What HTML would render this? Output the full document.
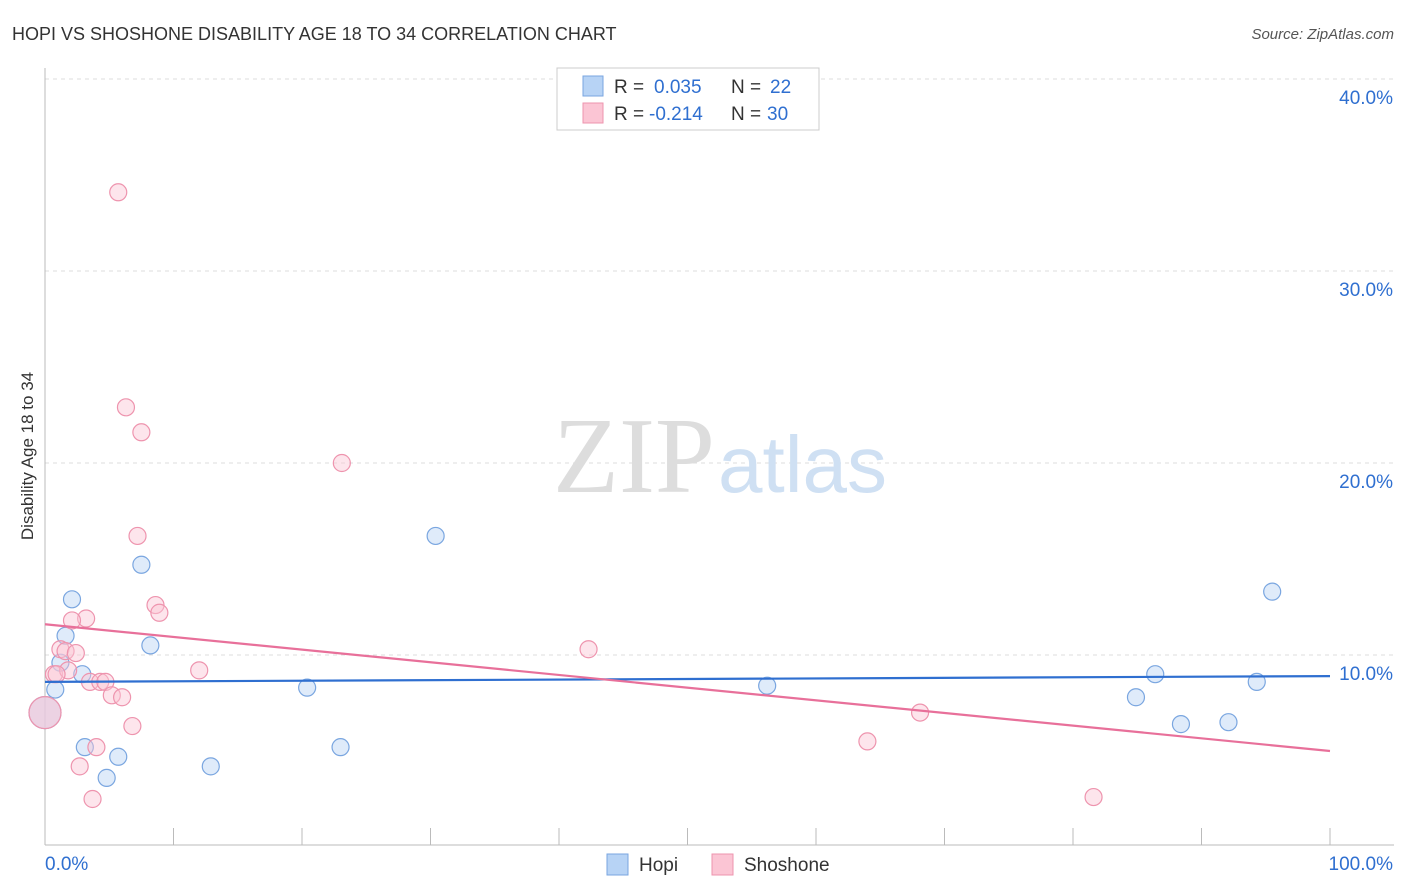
<!DOCTYPE html>
<html><head><meta charset="utf-8"><style>
body{margin:0;background:#fff;font-family:"Liberation Sans",sans-serif;}
#wrap{position:relative;width:1406px;height:892px;overflow:hidden}
</style></head><body><div id="wrap">
<svg id="chart" width="1406" height="892" xmlns="http://www.w3.org/2000/svg">
<text x="12" y="40" font-size="18" fill="#333">HOPI VS SHOSHONE DISABILITY AGE 18 TO 34 CORRELATION CHART</text>
<text x="1394" y="39" font-size="15" fill="#555" font-style="italic" text-anchor="end">Source: ZipAtlas.com</text>
<text x="33" y="456" font-size="17" fill="#333" text-anchor="middle" transform="rotate(-90 33 456)">Disability Age 18 to 34</text>
<g id="grid"></g>
<text x="715" y="492" font-size="108" fill="#ddd" font-family="Liberation Serif,serif" text-anchor="end">ZIP</text>
<text x="718" y="492" font-size="80" fill="#cfe0f3">atlas</text>
<g id="pts"></g><g id="lines"></g>
<g>
<rect x="557" y="68" width="262" height="62" fill="#fff" stroke="#ccc"/>
<rect x="583" y="76" width="20" height="20" fill="#b7d3f5" stroke="#7aa6e0"/>
<rect x="583" y="103" width="20" height="20" fill="#fbc5d4" stroke="#ee94ae"/>
<text x="614" y="93" font-size="19" fill="#333">R = <tspan x="654" fill="#2f6fd0">0.035</tspan><tspan x="731">N = </tspan><tspan x="770" fill="#2f6fd0">22</tspan></text>
<text x="614" y="120" font-size="19" fill="#333">R = <tspan x="649" fill="#2f6fd0">-0.214</tspan><tspan x="731">N = </tspan><tspan x="767" fill="#2f6fd0">30</tspan></text>
</g>
<g>
<rect x="607" y="854" width="21" height="21" fill="#b7d3f5" stroke="#7aa6e0"/>
<text x="639" y="871" font-size="19" fill="#333">Hopi</text>
<rect x="712" y="854" width="21" height="21" fill="#fbc5d4" stroke="#ee94ae"/>
<text x="744" y="871" font-size="19" fill="#333">Shoshone</text>
</g>
</svg></div>
<script>
const hopiX=[0.8,2.1,1.6,1.2,2.9,3.1,4.8,5.7,7.5,8.2,12.9,20.4,23.0,30.4,56.2,84.9,86.4,88.4,92.1,94.3,95.5,0];
const hopiY=[8.2,12.9,11.0,9.6,9.0,5.2,3.6,4.7,14.7,10.5,4.2,8.3,5.2,16.2,8.4,7.8,9.0,6.4,6.5,8.6,13.3,7.0];
const shoX=[5.7,6.3,7.5,23.1,7.2,8.6,8.9,3.2,2.1,1.2,1.6,2.4,0.7,1.8,3.5,4.3,4.7,5.2,6.0,6.8,12.0,4.0,2.7,3.7,42.3,68.1,64.0,81.6,0,0.9];
const shoY=[34.1,22.9,21.6,20.0,16.2,12.6,12.2,11.9,11.8,10.3,10.2,10.1,9.0,9.2,8.6,8.6,8.6,7.9,7.8,6.3,9.2,5.2,4.2,2.5,10.3,7.0,5.5,2.6,7.0,9.0];
const hopiLine=[8.6,8.9];
const shoLine=[11.6,5.0];
const yTicks=[10,20,30,40];
const X0=45,X1=1330,Y0=847,PY=19.2;
const sx=v=>X0+(X1-X0)*v/100, sy=v=>Y0-v*PY;
const NS="http://www.w3.org/2000/svg";
function mk(t,a,p){const e=document.createElementNS(NS,t);for(const k in a)e.setAttribute(k,a[k]);p.appendChild(e);return e;}
const g=document.getElementById('grid');
yTicks.forEach(v=>{
 const l=mk('line',{x1:45,x2:1394,y1:sy(v),y2:sy(v),stroke:'#ddd','stroke-dasharray':'4 4'},g);
 
 
 const t=mk('text',{x:1393,y:sy(v)+25,'font-size':19,fill:'#2f6fd0','text-anchor':'end'},g);
 t.textContent=v.toFixed(1)+'%';
 
 
});
const ax=mk('line',{x1:45,x2:1394,y1:845,y2:845,stroke:'#bbb'},g);


const ay=mk('line',{x1:45,x2:45,y1:68,y2:845,stroke:'#bbb'},g);


for(let i=0;i<=10;i++){const t=mk('line',{x1:sx(i*10),x2:sx(i*10),y1:828,y2:845,stroke:'#bbb'},g);
 
 }
[['0.0%',45,'start'],['100.0%',1393,'end']].forEach(([s,x,a])=>{const t=mk('text',{x:x,y:870,'font-size':19,fill:'#2f6fd0','text-anchor':a},g);t.textContent=s;
 
 });
const p=document.getElementById('pts');
function pts(X,Y,f,s,name){X.forEach((x,i)=>{const big=(x===0);
 const c=mk('circle',{cx:sx(x),cy:sy(Y[i]),r:big?16:8.5,fill:f,'fill-opacity':big?0.6:0.45,stroke:s,'stroke-width':1.2},p);
 
 });}
pts(hopiX,hopiY,'#b7d3f5','#7aa6e0','hopi-point');
pts(shoX,shoY,'#fbc5d4','#ee94ae','shoshone-point');
const L=document.getElementById('lines');
const l1=mk('line',{x1:sx(0),x2:sx(100),y1:sy(hopiLine[0]),y2:sy(hopiLine[1]),stroke:'#2f6fd0','stroke-width':2.2},L);


const l2=mk('line',{x1:sx(0),x2:sx(100),y1:sy(shoLine[0]),y2:sy(shoLine[1]),stroke:'#e8709a','stroke-width':2.2},L);


</script></body></html>
